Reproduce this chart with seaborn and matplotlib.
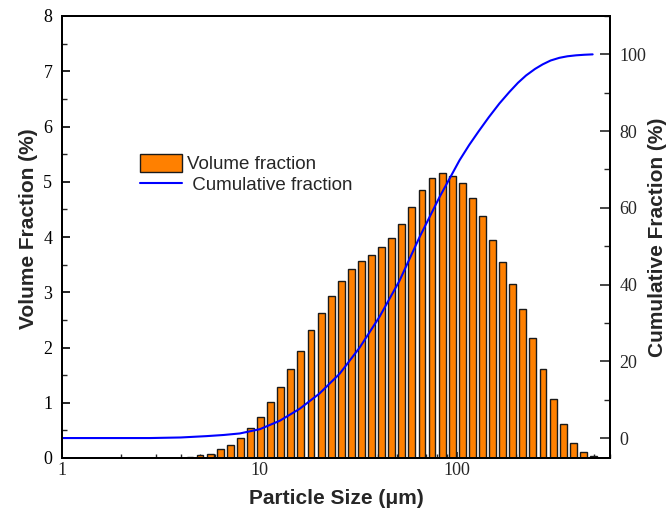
import numpy as np
import pandas as pd
import matplotlib
matplotlib.use("Agg")
import matplotlib.pyplot as plt
from matplotlib.ticker import MultipleLocator, LogLocator, NullFormatter, FixedLocator, FixedFormatter
from matplotlib.patches import Patch
from matplotlib.lines import Line2D
import seaborn as sns

# ---- data ----
particle_size = [4.45, 5.00, 5.63, 6.33, 7.12, 8.01, 9.02, 10.1, 11.4, 12.8,
                 14.4, 16.3, 18.3, 20.6, 23.1, 26.0, 29.3, 32.9, 37.0, 41.7,
                 46.9, 52.7, 59.3, 66.7, 75.0, 84.5, 95.0, 107, 120, 135,
                 152, 171, 193, 217, 244, 274, 308, 347, 390, 439, 494]
volume_fraction = [0.02, 0.05, 0.08, 0.16, 0.24, 0.36, 0.54, 0.74, 1.01, 1.29,
                   1.61, 1.94, 2.31, 2.63, 2.94, 3.21, 3.42, 3.57, 3.68, 3.81,
                   3.99, 4.24, 4.54, 4.85, 5.07, 5.15, 5.10, 4.98, 4.71, 4.38,
                   3.95, 3.55, 3.15, 2.69, 2.17, 1.61, 1.07, 0.61, 0.28, 0.10,
                   0.04]
cum_size = [1, 2.79, 4.0, 5.40, 6.6, 7.97, 10.06, 12.7, 16.0, 20.2, 25.6, 32.3,
            40.7, 51.4, 65.0, 82.0, 103.6, 116, 129.7, 145.7, 165, 185.4,
            205, 225.2, 250, 273.5, 300, 332.3, 365, 403.6, 445, 490]
cum_fraction = [0, 0, 0.15, 0.5, 0.8, 1.2, 2.3, 4.5, 7.6, 11.6, 16.8, 23.6,
                31.6, 41.0, 52.4, 62.8, 72.4, 76.4, 80.0, 83.6, 87.2, 90.2,
                92.6, 94.5, 96.2, 97.4, 98.4, 99.1, 99.5, 99.75, 99.9, 100.0]
x_ticks = [1, 10, 100]
x_tick_labels = ["1", "10", "100"]

bar_color = "#FF8000"
line_color = "#0000FF"

sns.set_style("ticks")
plt.rcParams["font.family"] = ["Liberation Serif", "DejaVu Serif"]

fig = plt.figure(figsize=(6.7, 5.08), dpi=100)
ax = fig.add_axes([62 / 670, 50 / 508, 548 / 670, 442 / 508])

df_bars = pd.DataFrame({"size": particle_size, "vol": volume_fraction})
log_c = np.log10(particle_size)
step = (log_c[-1] - log_c[0]) / (len(log_c) - 1)
lo = log_c[0] - step / 2
hi = log_c[-1] + step / 2
sns.histplot(data=df_bars, x="size", weights="vol", bins=len(log_c),
             binrange=(lo, hi), log_scale=True, shrink=0.68,
             color=bar_color, edgecolor="#1a1a1a", linewidth=1.0, alpha=1.0,
             ax=ax, legend=False)

ax2 = ax.twinx()
df_cum = pd.DataFrame({"size": cum_size, "cum": cum_fraction})
sns.lineplot(data=df_cum, x="size", y="cum", color=line_color, linewidth=1.5,
             ax=ax2, legend=False)

ax.set_xscale("log")
ax.set_xlim(1, 600)
ax.set_ylim(0, 8)
ax2.set_ylim(-5.2, 110)

ax.xaxis.set_major_locator(FixedLocator(x_ticks))
ax.xaxis.set_major_formatter(FixedFormatter(x_tick_labels))
ax.xaxis.set_minor_locator(LogLocator(base=10, subs=np.arange(2, 10)))
ax.xaxis.set_minor_formatter(NullFormatter())
ax.yaxis.set_major_locator(MultipleLocator(1))
ax.yaxis.set_minor_locator(MultipleLocator(0.5))
ax2.yaxis.set_major_locator(MultipleLocator(20))
ax2.yaxis.set_minor_locator(MultipleLocator(10))

tick_font = 13
ax.tick_params(axis="y", which="major", direction="in", length=6, width=1.2,
               labelsize=tick_font, pad=7, left=True, right=False, colors="black")
ax.tick_params(axis="y", which="minor", direction="in", length=3.5, width=1.0,
               left=True, right=False)
ax.tick_params(axis="x", which="major", direction="in", length=4, width=1.2,
               labelsize=tick_font, pad=3, top=False)
ax.tick_params(axis="x", which="minor", direction="in", length=3, width=1.0,
               top=False)
ax2.tick_params(axis="y", which="major", direction="in", length=7, width=1.2,
                labelsize=tick_font, pad=7, right=True, left=False)
ax2.tick_params(axis="y", which="minor", direction="in", length=4.5, width=1.0,
                right=True, left=False)

for a in (ax, ax2):
    for s in a.spines.values():
        s.set_visible(True)
        s.set_linewidth(1.4)
        s.set_color("black")

label_font = dict(family="Liberation Sans", weight="bold", size=15)
ax.set_xlabel("Particle Size (\u03bcm)", fontdict=label_font, labelpad=7)
ax.set_ylabel("Volume Fraction (%)", fontdict=label_font)
ax.yaxis.set_label_coords(-0.0447, 0.518)
ax2.set_ylabel("Cumulative Fraction (%)", fontdict=label_font)
ax2.yaxis.set_label_coords(1.070, 0.5)

handles = [Patch(facecolor=bar_color, edgecolor="#1a1a1a", linewidth=1.0),
           Line2D([0], [0], color=line_color, linewidth=1.5)]
labels = ["Volume fraction", " Cumulative fraction"]
ax.legend(handles, labels, loc="upper left", bbox_to_anchor=(0.142, 0.688),
          frameon=False, borderaxespad=0, borderpad=0, handlelength=2.24,
          handleheight=1.07, handletextpad=0.27, labelspacing=0.1,
          prop=dict(family="Liberation Sans", size=13.5))

fig.savefig("out.png", dpi=100)
